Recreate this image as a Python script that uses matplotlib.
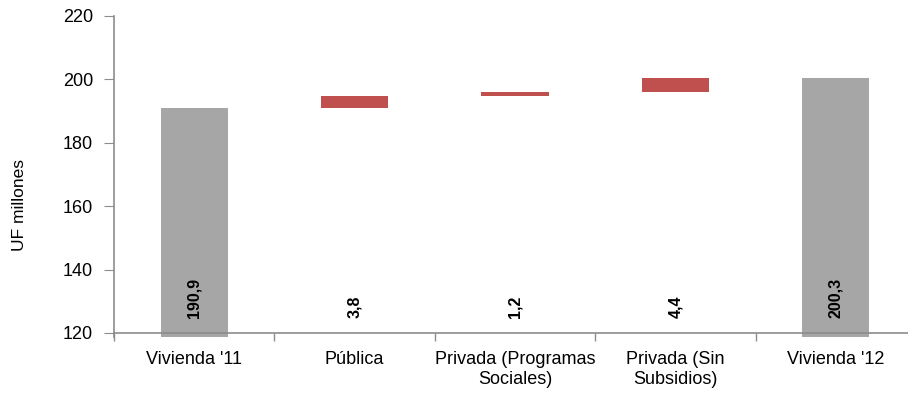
import matplotlib.pyplot as plt
import numpy as np

plt.rcParams['font.family'] = ['Liberation Sans', 'DejaVu Sans']

categories = ["Vivienda '11", "Pública", "Privada (Programas\nSociales)",
              "Privada (Sin\nSubsidios)", "Vivienda '12"]
start_total = 190.9
changes = [3.8, 1.2, 4.4]
end_total = 200.3
labels = ["190,9", "3,8", "1,2", "4,4", "200,3"]

gray = '#A6A6A6'
red = '#C0504D'
axis_color = '#8C8C8C'
floor = 118.8

fig = plt.figure(figsize=(9.08, 3.95), dpi=100)
ax = fig.add_axes([114 / 908, 58.2 / 395, 802 / 908, 320.8 / 395])

x = np.arange(len(categories))
w = 0.42

# totals
ax.bar(x[0], start_total - floor, bottom=floor, width=w, color=gray)
ax.bar(x[-1], end_total - floor, bottom=floor, width=w, color=gray)

# increments stacked on the running total
running = start_total
for i, c in enumerate(changes, start=1):
    ax.bar(x[i], c, bottom=running, width=w, color=red)
    running += c

for xi, lab in zip(x, labels):
    ax.text(xi, 124.6, lab, rotation=90, ha='center', va='bottom',
            fontsize=11.5, fontweight='bold')

ax.set_xlim(-0.5, len(categories) - 0.5)
ax.set_ylim(floor, 220)
ax.set_yticks([120, 140, 160, 180, 200, 220])
ax.tick_params(axis='y', labelsize=13, length=7, color=axis_color, pad=8)

# category names centred, tick marks on the boundaries between them
ax.set_xticks(x)
ax.set_xticklabels(categories, linespacing=1.0)
ax.tick_params(axis='x', which='major', length=0, pad=13, labelsize=13)
ax.set_xticks(np.arange(len(categories) + 1) - 0.5, minor=True)
ax.tick_params(axis='x', which='minor', length=6, color=axis_color, width=1)

for s in ['top', 'right']:
    ax.spines[s].set_visible(False)
ax.spines['bottom'].set_position(('data', 120))
for s in ['left', 'bottom']:
    ax.spines[s].set_color(axis_color)
    ax.spines[s].set_linewidth(1.2)

fig.text(20 / 908, 1 - 205 / 395, 'UF millones', rotation=90,
         ha='center', va='center', fontsize=12.5)

fig.savefig('out.png', dpi=100)
